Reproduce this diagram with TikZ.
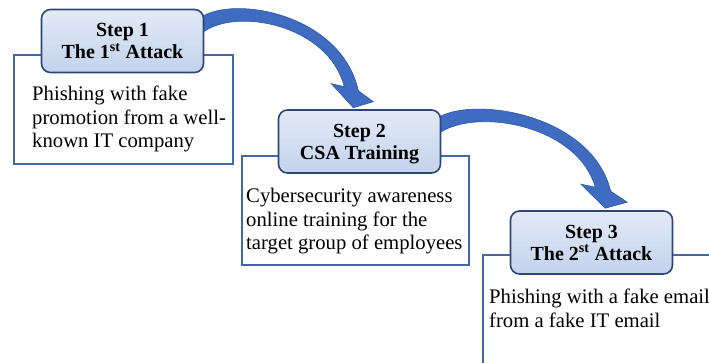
\documentclass[tikz,border=0pt]{standalone}
\usepackage{fontspec}
\setmainfont{Liberation Serif}
\usetikzlibrary{backgrounds}
\definecolor{hdrfillT}{HTML}{E2EAF6}
\definecolor{hdrfillB}{HTML}{C3D3EC}
\definecolor{hdrline}{HTML}{2E4774}
\definecolor{boxline}{HTML}{4467A5}
\definecolor{arrowfill}{HTML}{3F6CC0}
\definecolor{arrowline}{HTML}{2D58A6}
\tikzset{
 header/.style={draw=hdrline, line width=1.6pt, rounded corners=9pt,
   top color=hdrfillT, bottom color=hdrfillB, minimum width=162pt,
   minimum height=63pt, inner sep=0pt, align=center,
   font=\fontsize{20}{22}\selectfont\bfseries, text depth=0pt},
 content/.style={draw=boxline, line width=1.6pt, fill=white, inner sep=0pt},
 bodytext/.style={anchor=north west, align=left, inner sep=0pt,
   font=\fontsize{20.7}{23.5}\selectfont},
 curvearrow/.pic={
   \filldraw[fill=arrowfill, draw=arrowline, line width=0.6pt]
     (-4,9) .. controls (29,-14) and (137,5) .. (154,82)
     -- (169,93) -- (149,99) -- (127,75) -- (140,78)
     .. controls (124,16) and (32,-2) .. (-2,24) -- cycle;
 }
}
\begin{document}
\begin{tikzpicture}[x=1pt,y=-1pt]
\useasboundingbox (0,0) rectangle (709,362);
\begin{scope}
\clip (0,0) rectangle (709,362);
% Step 1
\node[content, minimum width=219pt, minimum height=109pt] (c1) at (123.5,109.5) {};
\node[header] (h1) at (122.5,41) {Step 1\\The 1\textsuperscript{st} Attack};
\node[bodytext] (t1) at (32,86) {Phishing with fake\\promotion from a well-\\known IT company};
% Step 2
\node[content, minimum width=227pt, minimum height=109pt] (c2) at (355.5,210.5) {};
\node[header] (h2) at (359.5,141.5) {Step 2\\CSA Training};
\node[bodytext] (t2) at (246,188) {Cybersecurity awareness\\online training for the\\target group of employees};
% Step 3
\node[content, minimum width=247pt, minimum height=125pt] (c3) at (606.5,317.5) {};
\node[header] (h3) at (591.5,242.5) {Step 3\\The 2\textsuperscript{st} Attack};
\node[bodytext] (t3) at (489,289) {Phishing with a fake email\\from a fake IT email};
\end{scope}
\begin{scope}[on background layer]
\pic at (h1.north east) {curvearrow};
\pic[xscale=1.1] at (h2.north east) {curvearrow};
\end{scope}
\end{tikzpicture}
\end{document}
